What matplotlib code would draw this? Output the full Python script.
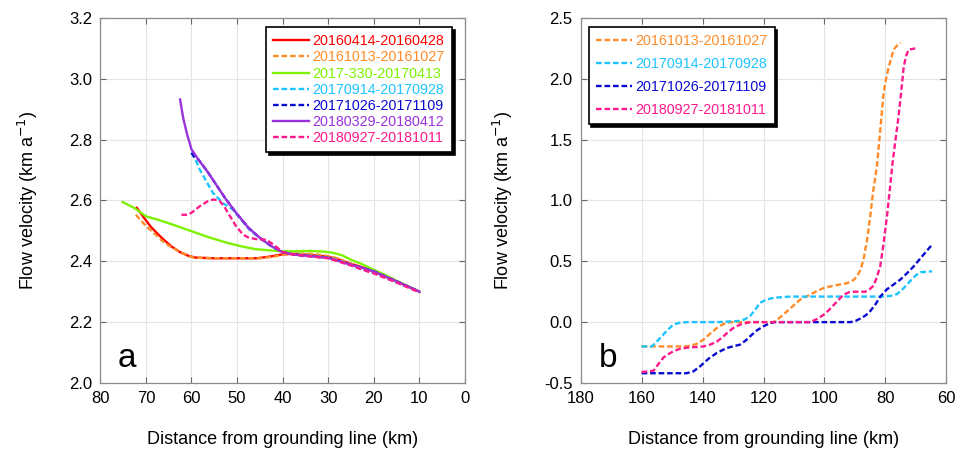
import matplotlib
matplotlib.use("Agg")
import matplotlib.pyplot as plt

plt.rcParams['font.family'] = ['Liberation Sans', 'DejaVu Sans']

# ---- panel a : distance (km) / flow velocity (km a-1) ----
a_labels = ["20160414-20160428", "20161013-20161027", "2017-330-20170413",
            "20170914-20170928", "20171026-20171109", "20180329-20180412",
            "20180927-20181011"]

a_red_x = [72.0, 70.5, 69.0, 67.6, 66.0, 64.4, 62.5, 60.5, 59.0, 55, 50, 45.7, 43, 40,
           37, 35, 32, 30, 27.5, 25, 22.5, 20, 17.5, 15, 12.5, 10]
a_red_y = [2.576, 2.545, 2.515, 2.493, 2.47, 2.449, 2.43, 2.417, 2.412, 2.41, 2.41, 2.41,
           2.415, 2.423, 2.425, 2.422, 2.418, 2.415, 2.405, 2.392, 2.38, 2.367, 2.35,
           2.334, 2.317, 2.30]

a_orange_x = [72.2, 71, 69.9, 68, 66.5, 65, 63, 61, 59.5, 55, 50, 45, 42, 40, 37, 34, 31,
              28, 25, 22.5, 20, 17.5, 15, 12.5, 10]
a_orange_y = [2.553, 2.533, 2.515, 2.49, 2.468, 2.452, 2.435, 2.42, 2.412, 2.41, 2.41,
              2.41, 2.415, 2.422, 2.425, 2.425, 2.42, 2.41, 2.392, 2.378, 2.364, 2.348,
              2.331, 2.315, 2.298]

a_green_x = [75.1, 72.5, 70, 67, 64, 60, 56, 52, 49, 46, 43, 40, 37, 34, 31, 29, 27, 25,
             22.5, 20, 17.5, 15, 12.5, 10]
a_green_y = [2.595, 2.575, 2.548, 2.535, 2.52, 2.499, 2.478, 2.46, 2.449, 2.44, 2.436,
             2.433, 2.433, 2.434, 2.432, 2.428, 2.42, 2.405, 2.39, 2.372, 2.355, 2.336,
             2.318, 2.30]

a_cyan_x = [60, 59, 58.2, 57, 55.3, 53, 50.9, 49, 47, 45, 42.5, 40, 37.5, 35, 32.5, 30,
            27.5, 25, 22.5, 20, 17.5, 15, 12.5, 10]
a_cyan_y = [2.757, 2.73, 2.702, 2.67, 2.625, 2.59, 2.57, 2.535, 2.50, 2.477, 2.45, 2.43,
            2.423, 2.42, 2.416, 2.412, 2.401, 2.388, 2.375, 2.363, 2.347, 2.331, 2.315,
            2.299]

a_blue_x = [60, 59.2, 58.5, 56.5, 54.5, 52.5, 50.2, 47.5, 45, 42.5, 40, 37.5, 34.7, 32,
            30, 27.5, 25.2, 22.5, 20, 17.5, 15, 12.5, 10]
a_blue_y = [2.757, 2.74, 2.735, 2.695, 2.65, 2.605, 2.559, 2.51, 2.477, 2.45, 2.43, 2.422,
            2.418, 2.414, 2.411, 2.40, 2.389, 2.378, 2.367, 2.35, 2.334, 2.317, 2.30]

a_purple_x = [62.5, 61.8, 61, 60, 58.5, 56.5, 54.5, 52.5, 50.2, 47.5, 45, 42.5, 40, 37.5,
              34.7, 32, 30, 27.5, 25.2, 22.5, 20, 17.5, 15, 12.5, 10]
a_purple_y = [2.932, 2.87, 2.82, 2.768, 2.735, 2.695, 2.65, 2.605, 2.559, 2.51, 2.477,
              2.45, 2.43, 2.422, 2.418, 2.414, 2.411, 2.40, 2.389, 2.378, 2.367, 2.35,
              2.334, 2.317, 2.30]

a_pink_x = [62.2, 60.7, 59.5, 58.2, 56.5, 55.3, 54.5, 53.8, 52.8, 52, 51, 50.2, 48.7, 47.5,
            45.8, 43.6, 42, 40, 37.5, 35, 32.5, 30, 27.5, 25, 22.5, 20, 17.5, 15, 12.5, 10]
a_pink_y = [2.553, 2.553, 2.565, 2.581, 2.597, 2.603, 2.602, 2.598, 2.58, 2.559, 2.535,
            2.515, 2.488, 2.478, 2.473, 2.471, 2.455, 2.43, 2.422, 2.418, 2.414, 2.41,
            2.398, 2.386, 2.372, 2.36, 2.345, 2.33, 2.314, 2.298]

# ---- panel b ----
b_labels = ["20161013-20161027", "20170914-20170928", "20171026-20171109",
            "20180927-20181011"]

b_orange_x = [160, 152, 145.2, 142, 139.7, 137.5, 135.3, 133.5, 132, 130, 120, 116.7, 114.5,
              112.3, 110, 108, 106, 104.7, 102.5, 100.3, 97, 92.6, 90.5, 89.3, 88.2, 87.2,
              86, 85, 84, 82.8, 81.7, 80.6, 79.8, 78.9, 77.3, 76, 75.1]
b_orange_y = [-0.2, -0.2, -0.2, -0.18, -0.144, -0.095, -0.048, -0.02, -0.005, 0.0, 0.0, 0.0,
              0.04, 0.089, 0.14, 0.185, 0.21, 0.226, 0.255, 0.28, 0.30, 0.32, 0.345, 0.377,
              0.43, 0.514, 0.68, 0.87, 1.08, 1.281, 1.58, 1.884, 2.0, 2.10, 2.24, 2.28,
              2.295]

b_cyan_x = [160, 156.7, 155, 153.4, 151.5, 149.6, 147.5, 145.2, 135, 127.7, 126, 124.4,
            122.8, 121.1, 119, 116.7, 111.2, 100, 90, 80.6, 78.5, 76.2, 74, 71.8, 70, 68.5,
            64.7]
b_cyan_y = [-0.2, -0.2, -0.16, -0.116, -0.065, -0.02, -0.005, 0.0, 0.0, 0.01, 0.025, 0.05,
            0.1, 0.16, 0.185, 0.2, 0.21, 0.21, 0.21, 0.21, 0.215, 0.23, 0.28, 0.34, 0.385,
            0.41, 0.418]

b_blue_x = [160, 150, 145.2, 143, 140.8, 138, 135.3, 132, 127.7, 125.8, 123.8, 122, 120,
            118, 116.7, 100, 91.5, 89.8, 88.2, 86.5, 85, 83.3, 81.7, 79.5, 77.3, 75.1, 73,
            70.7, 68, 64.7]
b_blue_y = [-0.42, -0.42, -0.42, -0.405, -0.363, -0.3, -0.253, -0.212, -0.185, -0.15,
            -0.103, -0.065, -0.034, -0.01, 0.0, 0.0, 0.0, 0.01, 0.03, 0.055, 0.09, 0.145,
            0.21, 0.27, 0.31, 0.35, 0.4, 0.459, 0.54, 0.637]

b_pink_x = [160, 156.1, 154.5, 152.8, 151, 149.6, 147.5, 145.2, 139.7, 137.5, 135.3, 133.5,
            132, 130, 127.7, 124.4, 110, 104.7, 102.5, 100.3, 98.5, 97, 95.3, 93.7, 92,
            90.4, 86.6, 85.2, 83.9, 82.8, 81.7, 80.6, 79.5, 78.6, 77.8, 76.8, 75.7, 74.8,
            74, 73.2, 72.4, 70.2]
b_pink_y = [-0.41, -0.4, -0.345, -0.29, -0.26, -0.24, -0.22, -0.21, -0.2, -0.185, -0.16,
            -0.125, -0.09, -0.05, -0.02, 0.0, 0.0, 0.0, 0.025, 0.06, 0.1, 0.14, 0.185, 0.226,
            0.245, 0.25, 0.25, 0.27, 0.3, 0.37, 0.46, 0.65, 0.87, 1.08, 1.28, 1.48, 1.69,
            1.9, 2.10, 2.19, 2.24, 2.25]

RED = "#ff0000"
ORANGE = "#ff8c28"
GREEN = "#7df200"
CYAN = "#1ec4ff"
BLUE = "#0a0ad2"
PURPLE = "#9a32dc"
PINK = "#ff1a8c"
DASH = (2.4, 1.2)
LW = 1.7


def style_axes(ax):
    ax.grid(True, color="#e4e4e4", linewidth=0.8)
    ax.set_axisbelow(True)
    for s in ax.spines.values():
        s.set_color("#8c8c8c")
        s.set_linewidth(0.9)
    ax.tick_params(direction="in", length=4, width=0.8, color="#666666",
                   top=True, right=True, labelsize=12, pad=6)
    ax.set_xlabel("Distance from grounding line (km)", fontsize=13, labelpad=18)
    ax.set_ylabel("Flow velocity (km a$^{-1}$)", fontsize=13, labelpad=21)


def add_legend(ax, loc, anchor, spacing):
    leg = ax.legend(loc=loc, bbox_to_anchor=anchor, borderaxespad=0, fontsize=10.3,
                    labelcolor="linecolor", frameon=True, fancybox=False,
                    shadow={"color": "black", "alpha": 1.0}, framealpha=1,
                    edgecolor="black", handlelength=2.5, handletextpad=0.25,
                    labelspacing=spacing, borderpad=0.5)
    leg.get_frame().set_linewidth(1.2)
    return leg


fig = plt.figure(figsize=(9.55, 4.5), dpi=100)
ax1 = fig.add_axes([0.105, 0.149, 0.382, 0.811])
ax2 = fig.add_axes([0.608, 0.149, 0.383, 0.811])

ax1.plot(a_red_x, a_red_y, color=RED, lw=LW, label=a_labels[0])
ax1.plot(a_orange_x, a_orange_y, color=ORANGE, lw=LW, dashes=DASH, label=a_labels[1])
ax1.plot(a_green_x, a_green_y, color=GREEN, lw=LW, label=a_labels[2])
ax1.plot(a_cyan_x, a_cyan_y, color=CYAN, lw=LW, dashes=DASH, label=a_labels[3])
ax1.plot(a_blue_x, a_blue_y, color=BLUE, lw=LW, dashes=DASH, label=a_labels[4])
ax1.plot(a_purple_x, a_purple_y, color=PURPLE, lw=LW, label=a_labels[5])
ax1.plot(a_pink_x, a_pink_y, color=PINK, lw=LW, dashes=DASH, label=a_labels[6])

ax1.set_xlim(80, 0)
ax1.set_ylim(2.0, 3.2)
ax1.set_xticks(range(80, -1, -10))
ax1.set_yticks([2.0, 2.2, 2.4, 2.6, 2.8, 3.0, 3.2])
ax1.set_yticklabels(["%.1f" % v for v in [2.0, 2.2, 2.4, 2.6, 2.8, 3.0, 3.2]])
style_axes(ax1)
add_legend(ax1, "upper right", (0.964, 0.975), 0.15)
ax1.text(0.047, 0.044, "a", transform=ax1.transAxes, fontsize=24)

ax2.plot(b_orange_x, b_orange_y, color=ORANGE, lw=LW, dashes=DASH, label=b_labels[0])
ax2.plot(b_cyan_x, b_cyan_y, color=CYAN, lw=LW, dashes=DASH, label=b_labels[1])
ax2.plot(b_blue_x, b_blue_y, color=BLUE, lw=LW, dashes=DASH, label=b_labels[2])
ax2.plot(b_pink_x, b_pink_y, color=PINK, lw=LW, dashes=DASH, label=b_labels[3])

ax2.set_xlim(180, 60)
ax2.set_ylim(-0.5, 2.5)
ax2.set_xticks(range(180, 59, -20))
ax2.set_yticks([-0.5, 0.0, 0.5, 1.0, 1.5, 2.0, 2.5])
ax2.set_yticklabels(["%.1f" % v for v in [-0.5, 0.0, 0.5, 1.0, 1.5, 2.0, 2.5]])
style_axes(ax2)
add_legend(ax2, "upper left", (0.022, 0.975), 0.62)
ax2.text(0.05, 0.044, "b", transform=ax2.transAxes, fontsize=24)

fig.savefig("out.png", dpi=100)
